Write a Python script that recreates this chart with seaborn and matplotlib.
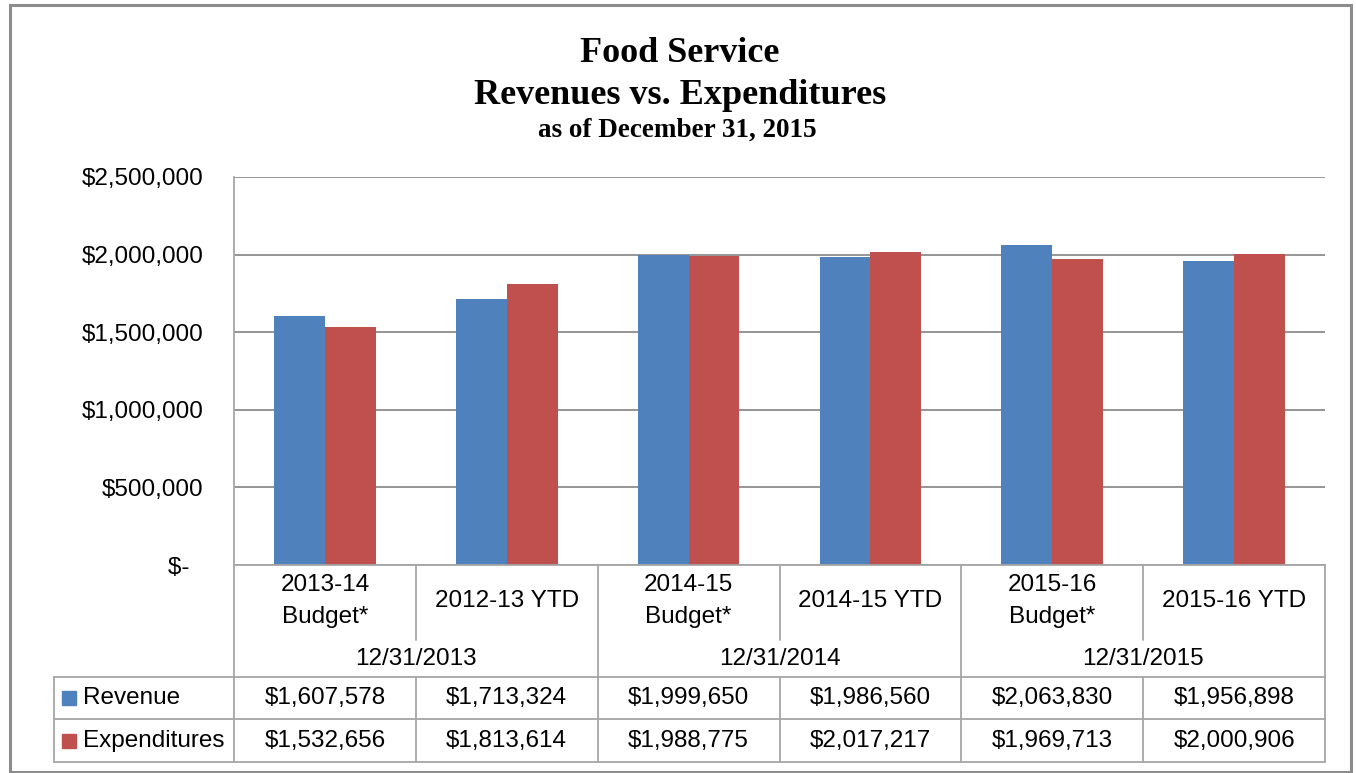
import matplotlib
matplotlib.use("Agg")
import matplotlib.pyplot as plt
import matplotlib.transforms as mtransforms
from matplotlib.patches import Rectangle
from matplotlib.lines import Line2D
import seaborn as sns
import pandas as pd

# ---------------- data ----------------
categories = ["2013-14\nBudget*", "2012-13 YTD", "2014-15\nBudget*", "2014-15 YTD",
              "2015-16\nBudget*", "2015-16 YTD"]
groups = ["12/31/2013", "12/31/2014", "12/31/2015"]
series = ["Revenue", "Expenditures"]
revenue = [1607578, 1713324, 1999650, 1986560, 2063830, 1956898]
expenditures = [1532656, 1813614, 1988775, 2017217, 1969713, 2000906]
yticks = [0, 500000, 1000000, 1500000, 2000000, 2500000]
ytick_labels = ["$-  ", "$500,000", "$1,000,000", "$1,500,000", "$2,000,000", "$2,500,000"]
title_lines = ["Food Service", "Revenues vs. Expenditures", "as of December 31, 2015"]
colors = ["#4F81BD", "#C0504D"]

df = pd.DataFrame({
    "Category": categories * 2,
    "Series": [series[0]] * len(categories) + [series[1]] * len(categories),
    "Value": revenue + expenditures,
})

sns.set_theme(style="white")
plt.rcParams["font.family"] = ["Liberation Sans", "DejaVu Sans"]
plt.rcParams["text.color"] = "black"

W, H = 1356, 773
fig = plt.figure(figsize=(W / 100, H / 100), dpi=100)
fig.patch.set_facecolor("white")

# plot area in pixels
L, R, T, B = 234, 1325, 177, 565
ax = fig.add_axes([L / W, 1 - B / H, (R - L) / W, (B - T) / H])

sns.barplot(data=df, x="Category", y="Value", hue="Series", order=categories,
            hue_order=series, palette=colors, width=0.56, saturation=1,
            ax=ax, legend=False, linewidth=0)

GRID = "#8C8C8C"
LINE = "#A6A6A6"
ax.set_xlim(-0.5, len(categories) - 0.5)
ax.set_ylim(0, 2500000)
ax.set_yticks(yticks)
ax.set_yticklabels(ytick_labels)
ax.tick_params(axis="y", length=0, pad=22, labelsize=17.5, colors="#000000")
ax.set_xticks([])
ax.set_xlabel("")
ax.set_ylabel("")
ax.yaxis.grid(True, color=GRID, linewidth=1.3)
ax.set_axisbelow(True)
for s in ["top", "right"]:
    ax.spines[s].set_visible(False)
ax.spines["left"].set_color(LINE)
ax.spines["left"].set_linewidth(1.3)
ax.spines["bottom"].set_color(LINE)
ax.spines["bottom"].set_linewidth(1.3)


def ax_x(px):
    return (px - L) / (R - L)


def ax_y(py):
    return (B - py) / (B - T)


blend = mtransforms.blended_transform_factory(ax.transData, ax.transAxes)

def hline(x0, x1, y):
    ax.add_line(Line2D([ax_x(x0), ax_x(x1)], [ax_y(y), ax_y(y)], transform=ax.transAxes,
                       color=LINE, linewidth=1.3, clip_on=False))

def vline(x, y0, y1):
    ax.add_line(Line2D([ax_x(x), ax_x(x)], [ax_y(y0), ax_y(y1)], transform=ax.transAxes,
                       color=LINE, linewidth=1.3, clip_on=False))

# table geometry (pixels)
ROW_CAT_BOT = 640
ROW_GRP_BOT = 677
ROW1_BOT = 719
ROW2_BOT = 762
LEFT_TBL = 54
colw = (R - L) / len(categories)

# left axis line extended downward
vline(L, B, ROW2_BOT)
for i in range(1, len(categories) + 1):
    x = L + i * colw
    if i % 2 == 0:
        vline(x, B, ROW2_BOT)
    else:
        vline(x, B, ROW_CAT_BOT)
        vline(x, ROW_GRP_BOT, ROW2_BOT)
hline(LEFT_TBL, R, ROW_GRP_BOT)
hline(LEFT_TBL, R, ROW1_BOT)
hline(LEFT_TBL, R, ROW2_BOT)
vline(LEFT_TBL, ROW_GRP_BOT, ROW2_BOT)

FS = 17.5
# category labels
for i, c in enumerate(categories):
    ax.text(i, ax_y(601), c, transform=blend, ha="center", va="center",
            fontsize=FS, linespacing=1.6, color="#000000")
# group labels
for g, name in enumerate(groups):
    ax.text(2 * g + 0.5, ax_y(659), name, transform=blend, ha="center", va="center",
            fontsize=FS, color="#000000")
# data rows
for r, (vals, name, col) in enumerate(zip([revenue, expenditures], series, colors)):
    yc = ax_y(698 + 43 * r)
    for i, v in enumerate(vals):
        ax.text(i, yc, f"${v:,}", transform=blend, ha="center", va="center",
                fontsize=FS, color="#000000")
    ax.add_line(Line2D([ax_x(69)], [yc], transform=ax.transAxes, marker="s",
                       markersize=9.5, color=col, linestyle="none", clip_on=False))
    ax.text(ax_x(83), yc, name, transform=ax.transAxes, ha="left", va="center",
            fontsize=FS, color="#000000")

# titles
serif = ["Liberation Serif", "DejaVu Serif"]
fig.text(680 / W, 1 - 62 / H, title_lines[0], ha="center", va="baseline",
         fontsize=26, fontweight="bold", family=serif, color="black")
fig.text(680 / W, 1 - 104 / H, title_lines[1], ha="center", va="baseline",
         fontsize=26, fontweight="bold", family=serif, color="black")
fig.text(677 / W, 1 - 137 / H, title_lines[2], ha="center", va="baseline",
         fontsize=19.5, fontweight="bold", family=serif, color="black")

# outer chart border
fig.patches.append(Rectangle((10 / W, 1 - 772 / H), 1341 / W, 767 / H,
                             transform=fig.transFigure, fill=False,
                             edgecolor="#8C8C8C", linewidth=2.2))

fig.savefig("out.png", dpi=100)
